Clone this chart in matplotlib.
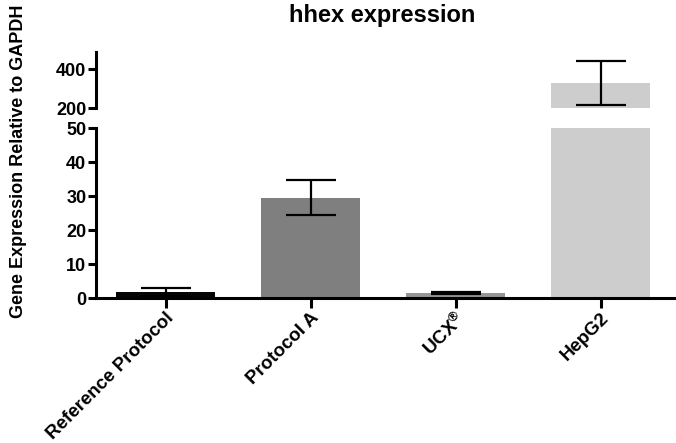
import matplotlib
matplotlib.use("Agg")
import matplotlib.pyplot as plt

plt.rcParams["font.family"] = ["Liberation Sans", "DejaVu Sans"]
plt.rcParams["font.weight"] = "bold"
plt.rcParams["mathtext.default"] = "regular"

# dados
groups = ["Reference Protocol", "Protocol A", r"UCX$^{®}$", "HepG2"]
means = [1.8, 29.5, 1.5, 330.0]
errors = [1.05, 5.2, 0.2, 112.0]
colors = ["#050505", "#7f7f7f", "#959595", "#cdcdcd"]

lower_ticks = [0, 10, 20, 30, 40, 50]
upper_ticks = [200, 400]

fig = plt.figure(figsize=(6.76, 4.43), dpi=100)
ax_low = fig.add_axes([0.142, 0.327, 0.858, 0.384])
ax_up = fig.add_axes([0.142, 0.756, 0.858, 0.127])

x = list(range(len(groups)))
width = 0.68

for ax in (ax_low, ax_up):
    ax.bar(x, means, width, color=colors, zorder=1)
    ax.errorbar(x, means, yerr=errors, fmt="none", ecolor="black",
                elinewidth=1.6, capsize=18, capthick=1.6, zorder=2)
    ax.set_xlim(-0.48, 3.52)
    ax.spines["top"].set_visible(False)
    ax.spines["right"].set_visible(False)
    ax.spines["left"].set_linewidth(2.2)
    ax.tick_params(axis="y", length=6, width=2.2, labelsize=13, pad=1)

ax_low.set_ylim(0, 50)
ax_low.set_yticks(lower_ticks)
ax_low.spines["bottom"].set_linewidth(2.2)
ax_low.set_xticks(x)
ax_low.set_xticklabels(groups, rotation=45, ha="right", rotation_mode="anchor",
                       fontsize=13.5, fontweight="bold")
ax_low.tick_params(axis="x", length=7, width=2.2, pad=1)

ax_up.set_ylim(200, 490)
ax_up.set_yticks(upper_ticks)
ax_up.spines["bottom"].set_visible(False)
ax_up.set_xticks([])

fig.text(0.565, 0.99, "hhex expression", ha="center", va="top",
         fontsize=17, fontweight="bold")
fig.text(0.027, 0.282, "Gene Expression Relative to GAPDH", rotation=90,
         ha="center", va="bottom", fontsize=13, fontweight="bold")

plt.savefig("out.png", dpi=100)
plt.close()
